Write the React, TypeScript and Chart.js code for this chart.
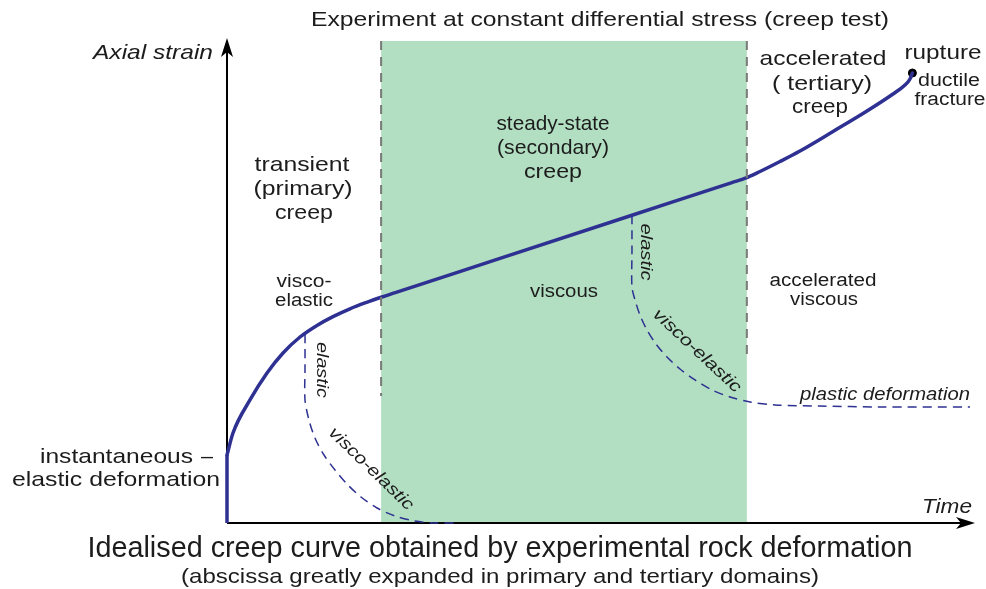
import React, { useEffect, useRef } from "react";
import { Chart, registerables } from "chart.js";

Chart.register(...registerables);

// ---- data (time / axial strain, arbitrary units 0..100) ----
const instantTime = [0, 0];
const instantStrain = [0, 14.08];

const creepTime = [0, 0.8, 3.07, 5.35, 7.49, 9.76, 12.03, 14.17, 16.44, 18.58, 20.72, 22.5, 36.5, 54.14, 67.5, 69.39, 71.26, 73.93, 76.6, 81.02, 85.56, 89.04, 90.64, 91.31, 91.63];
const creepStrain = [14.08, 18.63, 25.47, 31.06, 35.2, 38.51, 40.91, 42.73, 44.35, 45.63, 46.79, 47.69, 54.78, 63.71, 70.47, 71.43, 72.77, 74.84, 77.02, 81.06, 85.3, 88.82, 90.68, 91.93, 93.17];

const recovery1Time = [10.43, 10.43, 10.43, 10.96, 11.76, 12.97, 14.44, 16.04, 17.91, 20.05, 22.46, 25.13, 27.81, 30.48];
const recovery1Strain = [39.1, 32.09, 25.47, 21.33, 17.6, 14.08, 10.97, 8.07, 5.38, 3.11, 1.45, 0.41, 0, 0];

const recovery2Time = [54.14, 54.14, 54.14, 54.55, 55.21, 56.15, 57.35, 58.82, 60.56, 62.57, 64.84, 67.25, 69.92, 73.26, 79.28, 87.3, 99.33];
const recovery2Strain = [63.7, 56.11, 48.86, 46.17, 43.06, 39.96, 37.06, 34.37, 31.88, 29.61, 27.54, 26.09, 25.05, 24.43, 24.22, 24.02, 24.02];

const stageBounds = [20.6, 69.5];
const stageTop = 99.8;
const boundaryLineBottom = [26.3, 34.8];

const rupture = { x: 91.63, y: 93.17 };

const NAVY = "#2e3192";
const GREEN = "#b2dfc2";

function pts(xs: number[], ys: number[]) {
  return xs.map((x, i) => ({ x, y: ys[i] }));
}

function txt(
  ctx: CanvasRenderingContext2D,
  s: string,
  x: number,
  y: number,
  o: { size?: number; width?: number; italic?: boolean; align?: CanvasTextAlign; angle?: number } = {}
) {
  const size = o.size ?? 21;
  ctx.save();
  ctx.font = `${o.italic ? "italic " : ""}${size}px "Liberation Sans", Arial, sans-serif`;
  ctx.translate(x, y);
  if (o.angle) ctx.rotate(o.angle);
  const m = ctx.measureText(s).width;
  const sx = o.width ? o.width / m : 1.12;
  ctx.scale(sx, 1);
  ctx.textAlign = o.align ?? "center";
  ctx.textBaseline = "middle";
  ctx.fillStyle = "#1c1c1c";
  ctx.fillText(s, 0, 0);
  ctx.restore();
}

const backgroundPlugin = {
  id: "bg",
  beforeDatasetsDraw(chart: any) {
    const { ctx, scales } = chart;
    const xs = scales.x, ys = scales.y;
    ctx.save();
    // green steady-state band
    const x0 = xs.getPixelForValue(stageBounds[0]);
    const x1 = xs.getPixelForValue(stageBounds[1]);
    const yt = ys.getPixelForValue(stageTop);
    const yb = ys.getPixelForValue(0);
    ctx.fillStyle = GREEN;
    ctx.fillRect(x0, yt, x1 - x0, yb - yt);

    // axes
    const ox = xs.getPixelForValue(0);
    const oy = ys.getPixelForValue(0);
    const tx = xs.getPixelForValue(100);
    const ty = ys.getPixelForValue(100);
    ctx.strokeStyle = "#000";
    ctx.fillStyle = "#000";
    ctx.lineWidth = 2;
    ctx.beginPath();
    ctx.moveTo(ox, oy);
    ctx.lineTo(ox, ty + 10);
    ctx.moveTo(ox, oy);
    ctx.lineTo(tx - 10, oy);
    ctx.stroke();
    // arrowheads
    ctx.beginPath();
    ctx.moveTo(ox, ty - 2);
    ctx.lineTo(ox - 6, ty + 17);
    ctx.lineTo(ox, ty + 12);
    ctx.lineTo(ox + 6, ty + 17);
    ctx.closePath();
    ctx.fill();
    ctx.beginPath();
    ctx.moveTo(tx, oy);
    ctx.lineTo(tx - 19, oy - 6);
    ctx.lineTo(tx - 14, oy);
    ctx.lineTo(tx - 19, oy + 6);
    ctx.closePath();
    ctx.fill();
    ctx.restore();
  },
  afterDraw(chart: any) {
    const ctx: CanvasRenderingContext2D = chart.ctx;
    const R = Math.PI / 180;
    txt(ctx, "Experiment at constant differential stress (creep test)", 600, 20, { size: 21, width: 578 });
    txt(ctx, "Axial strain", 213, 53, { size: 21, width: 120, italic: true, align: "right" });
    txt(ctx, "Time", 922, 507, { size: 21, width: 50, italic: true, align: "left" });

    txt(ctx, "transient", 302, 165, { size: 21, width: 95 });
    txt(ctx, "(primary)", 303, 189, { size: 21, width: 99 });
    txt(ctx, "creep", 304, 213, { size: 21, width: 58 });

    txt(ctx, "steady-state", 553, 124, { size: 21, width: 113 });
    txt(ctx, "(secondary)", 553, 148, { size: 21, width: 112 });
    txt(ctx, "creep", 553, 172, { size: 21, width: 58 });

    txt(ctx, "accelerated", 823, 59, { size: 21, width: 127 });
    txt(ctx, "( tertiary)", 822, 84, { size: 21, width: 100 });
    txt(ctx, "creep", 820, 107, { size: 21, width: 56 });

    txt(ctx, "rupture", 943, 53, { size: 21, width: 77 });
    txt(ctx, "ductile", 949, 81, { size: 18, width: 62 });
    txt(ctx, "fracture", 950, 100, { size: 18, width: 71 });

    txt(ctx, "visco-", 304, 282, { size: 18, width: 55 });
    txt(ctx, "elastic", 304, 301, { size: 18, width: 58 });
    txt(ctx, "viscous", 564, 292, { size: 18, width: 68 });
    txt(ctx, "accelerated", 823, 281, { size: 18, width: 107 });
    txt(ctx, "viscous", 824, 300, { size: 18, width: 68 });

    txt(ctx, "elastic", 322, 370, { size: 17, width: 56, italic: true, angle: 90 * R });
    txt(ctx, "visco-elastic", 371, 469, { size: 17, width: 111, italic: true, angle: 44 * R });
    txt(ctx, "elastic", 646, 252, { size: 17, width: 57, italic: true, angle: 90 * R });
    txt(ctx, "visco-elastic", 697, 351, { size: 17, width: 114, italic: true, angle: 43 * R });
    txt(ctx, "plastic deformation", 885, 395, { size: 18, width: 170, italic: true });

    txt(ctx, "instantaneous", 193, 457, { size: 21, width: 153, align: "right" });
    txt(ctx, "–", 207, 457, { size: 21, width: 12 });
    txt(ctx, "elastic deformation", 220, 480, { size: 21, width: 208, align: "right" });

    txt(ctx, "Idealised creep curve obtained by experimental rock deformation", 500, 549, { size: 29, width: 825 });
    txt(ctx, "(abscissa greatly expanded in primary and tertiary domains)", 500, 577, { size: 21, width: 638 });
  },
};

export default function App() {
  const ref = useRef<HTMLCanvasElement | null>(null);
  useEffect(() => {
    if (!ref.current) return;
    const chart = new Chart(ref.current, {
      type: "line",
      data: {
        datasets: [
          {
            data: pts([stageBounds[0], stageBounds[0]], [stageTop, boundaryLineBottom[0]]),
            borderColor: "#7a7a7a",
            borderWidth: 2,
            borderDash: [9, 7],
            pointRadius: 0,
            tension: 0,
          },
          {
            data: pts([stageBounds[1], stageBounds[1]], [stageTop, boundaryLineBottom[1]]),
            borderColor: "#7a7a7a",
            borderWidth: 2,
            borderDash: [9, 7],
            pointRadius: 0,
            tension: 0,
          },
          {
            data: pts(recovery1Time, recovery1Strain),
            borderColor: NAVY,
            borderWidth: 1.5,
            borderDash: [9, 6],
            pointRadius: 0,
            tension: 0.3,
          },
          {
            data: pts(recovery2Time, recovery2Strain),
            borderColor: NAVY,
            borderWidth: 1.5,
            borderDash: [9, 6],
            pointRadius: 0,
            tension: 0.3,
          },
          {
            data: pts(instantTime, instantStrain),
            borderColor: NAVY,
            borderWidth: 3.5,
            pointRadius: 0,
            tension: 0,
          },
          {
            data: pts(creepTime, creepStrain),
            borderColor: NAVY,
            borderWidth: 3.5,
            pointRadius: 0,
            cubicInterpolationMode: "monotone",
            borderCapStyle: "round",
          },
          {
            type: "scatter",
            data: [rupture],
            backgroundColor: "#000",
            borderColor: "#000",
            pointRadius: 4,
          } as any,
        ],
      },
      options: {
        animation: false,
        responsive: false,
        events: [],
        layout: { padding: { left: 227, right: 11, top: 40, bottom: 66 } },
        datasets: { line: { clip: false as any }, scatter: { clip: false as any } } as any,
        scales: {
          x: { type: "linear", min: 0, max: 100, display: false },
          y: { type: "linear", min: 0, max: 100, display: false },
        },
        plugins: { legend: { display: false }, tooltip: { enabled: false }, title: { display: false } },
      },
      plugins: [backgroundPlugin],
    });
    return () => chart.destroy();
  }, []);
  return (
    <div style={{ position: "fixed", left: 0, top: 0, width: 986, height: 589, background: "#fff" }}>
      <canvas ref={ref} width={986} height={589} style={{ display: "block" }} />
    </div>
  );
}
